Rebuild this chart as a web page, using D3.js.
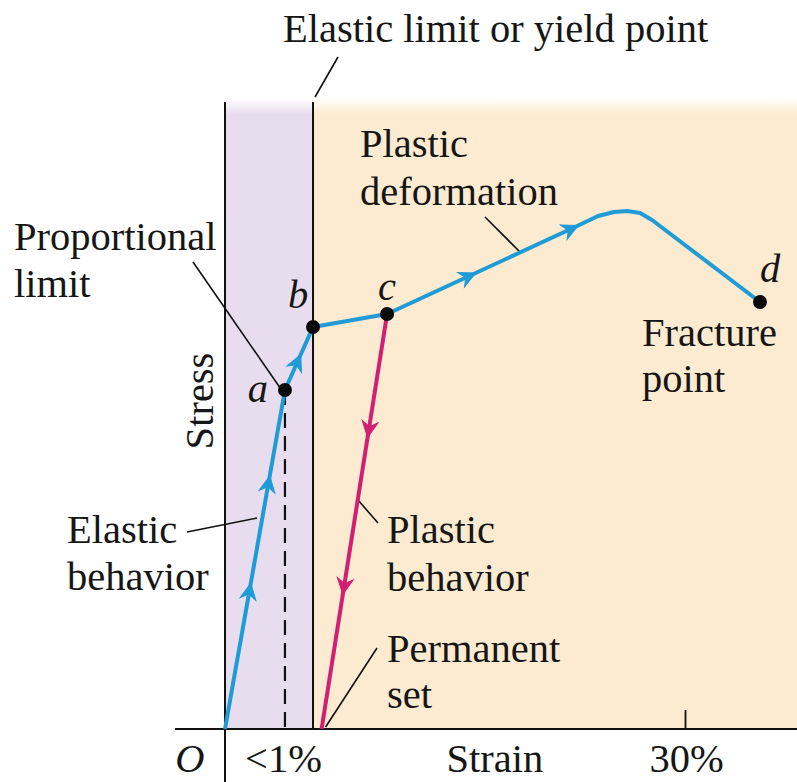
<!DOCTYPE html>
<html>
<head>
<meta charset="utf-8">
<script src="https://cdn.jsdelivr.net/npm/d3@7"></script>
<style>
  html, body { margin: 0; padding: 0; background: #ffffff; }
  svg { display: block; }
  text { font-family: "Liberation Serif", "Times New Roman", "DejaVu Serif", serif; fill: #161616; }
</style>
</head>
<body>
<svg id="chart" width="797" height="782"></svg>
<script>
// ---------------- DATA (schematic units: strain %, stress 0-100) ----------------
const loadStrain   = [0, 3.91, 5.74, 10.57, 22.83, 24.33, 25.37, 26.22, 27.07, 27.85, 34.89];
const loadStress   = [0, 54.07, 64.11, 66.19, 80.06, 81.82, 82.46, 82.62, 82.30, 81.18, 68.10];
const unloadStrain = [10.57, 6.3];
const unloadStress = [66.19, 0];
const pointLabels  = ["a", "b", "c", "d"];
const pointStrain  = [3.91, 5.74, 10.57, 34.89];
const pointStress  = [54.07, 64.11, 66.19, 68.10];
const loadArrowStrain   = [1.5, 2.8, 4.57, 15.85, 22.6];
const loadArrowStress   = [22.2, 39.2, 58.9, 72.7, 79.9];
const unloadArrowStrain = [9.13, 7.7];
const unloadArrowStress = [47.7, 22.6];
const xTickValues = [0, 3.91, 30];
const xTickLabels = ["O", "<1%", "30%"];
const xAxisTitle = "Strain";
const yAxisTitle = "Stress";
const elasticLimitStrain = 5.74;
const proportionalLimitStrain = 3.91;
const proportionalLimitStress = 54.07;

// ---------------- SETUP ----------------
const W = 797, H = 782;
const svg = d3.select("#chart");
const x = d3.scaleLinear().domain([0, 30]).range([225, 685]);
const y = d3.scaleLinear().domain([0, 100]).range([729, 102]);
const FS = 40.5;
const BOTTOM_BASELINE = 772;
const BLUE = "#1f9bd6", PINK = "#d21f73";

const defs = svg.append("defs");
function fadeGrad(id, color) {
  const g = defs.append("linearGradient").attr("id", id)
    .attr("gradientUnits", "userSpaceOnUse").attr("x1", 0).attr("x2", 0)
    .attr("y1", y(100) - 4).attr("y2", y(100) + 12);
  g.append("stop").attr("offset", 0).attr("stop-color", "#ffffff");
  g.append("stop").attr("offset", 1).attr("stop-color", color);
}
fadeGrad("lav", "#e7ddef");
fadeGrad("peach", "#fcebd0");

// backgrounds
svg.append("rect").attr("x", x(0)).attr("y", y(100) - 4)
  .attr("width", x(elasticLimitStrain) - x(0)).attr("height", y(0) - y(100) + 4)
  .attr("fill", "url(#lav)");
svg.append("rect").attr("x", x(elasticLimitStrain)).attr("y", y(100) - 4)
  .attr("width", W - x(elasticLimitStrain)).attr("height", y(0) - y(100) + 4)
  .attr("fill", "url(#peach)");

// elastic-limit vertical line + slash leader
svg.append("line").attr("x1", x(elasticLimitStrain)).attr("x2", x(elasticLimitStrain))
  .attr("y1", y(100)).attr("y2", y(0)).attr("stroke", "#111").attr("stroke-width", 2);
svg.append("line").attr("x1", x(elasticLimitStrain) + 2).attr("y1", y(100) - 5)
  .attr("x2", x(elasticLimitStrain) + 25).attr("y2", 57).attr("stroke", "#111").attr("stroke-width", 1.6);

// dashed line below proportional limit
svg.append("line").attr("x1", x(proportionalLimitStrain)).attr("x2", x(proportionalLimitStrain))
  .attr("y1", y(proportionalLimitStress)).attr("y2", y(0))
  .attr("stroke", "#111").attr("stroke-width", 2.2).attr("stroke-dasharray", "15,8");

// axes
const xAxis = d3.axisBottom(x).tickValues(xTickValues)
  .tickFormat((d, i) => xTickLabels[i]).tickSizeInner(-19).tickSizeOuter(0);
const gx = svg.append("g").attr("transform", `translate(0,${y(0)})`).call(xAxis);
gx.select(".domain").remove();
gx.selectAll(".tick line").attr("stroke", "#111").attr("stroke-width", 1.8)
  .attr("opacity", d => d === 30 ? 1 : 0);
gx.selectAll(".tick text")
  .attr("y", BOTTOM_BASELINE - y(0)).attr("dy", 0)
  .style("font-family", '"Liberation Serif", "Times New Roman", serif')
  .style("font-size", FS + "px").attr("fill", "#161616")
  .style("font-style", d => d === 0 ? "italic" : "normal")
  .attr("text-anchor", d => d === 0 ? "end" : "middle")
  .attr("x", d => d === 0 ? -21 : (d === 30 ? 1 : -2));
svg.append("line").attr("x1", 175).attr("x2", W).attr("y1", y(0)).attr("y2", y(0))
  .attr("stroke", "#111").attr("stroke-width", 2);
svg.append("line").attr("x1", x(0)).attr("x2", x(0)).attr("y1", y(100)).attr("y2", H)
  .attr("stroke", "#111").attr("stroke-width", 2);

svg.append("text").attr("x", x(17.6)).attr("y", BOTTOM_BASELINE)
  .attr("text-anchor", "middle").style("font-size", FS + "px").text(xAxisTitle);
svg.append("text").attr("transform", `translate(${x(0) - 12},401) rotate(-90)`)
  .attr("text-anchor", "middle").style("font-size", FS + "px").text(yAxisTitle);

// leaders
const leaders = [
  [[193, 262], [x(proportionalLimitStrain) - 2, y(proportionalLimitStress) + 2]],
  [[187, 532], [257, 518]],
  [[485, 217], [520, 252]],
  [[358, 500], [378, 523]],
  [[377, 648], [x(unloadStrain[1]) + 4, y(0) - 2]]
];
leaders.forEach(([p, q]) => svg.append("line")
  .attr("x1", p[0]).attr("y1", p[1]).attr("x2", q[0]).attr("y2", q[1])
  .attr("stroke", "#111").attr("stroke-width", 1.6));

// curves
const line = d3.line().x(d => x(d[0])).y(d => y(d[1])).curve(d3.curveLinear);
const loadPts = loadStrain.map((s, i) => [s, loadStress[i]]);
const unloadPts = unloadStrain.map((s, i) => [s, unloadStress[i]]);
const unloadPath = svg.append("path").attr("d", line(unloadPts)).attr("fill", "none")
  .attr("stroke", PINK).attr("stroke-width", 4).attr("stroke-linejoin", "round");
const loadPath = svg.append("path").attr("d", line(loadPts)).attr("fill", "none")
  .attr("stroke", BLUE).attr("stroke-width", 4).attr("stroke-linejoin", "round");

const arrowD = "M7,0 L-9,-8 L-4,0 L-9,8 Z";
function placeArrows(node, xs, ys, color) {
  const L = node.getTotalLength();
  const samples = d3.range(0, L, 1).map(l => { const p = node.getPointAtLength(l); return { l, x: p.x, y: p.y }; });
  xs.forEach((sx, i) => {
    const px = x(sx), py = y(ys[i]);
    const best = d3.least(samples, s => (s.x - px) ** 2 + (s.y - py) ** 2);
    const p0 = node.getPointAtLength(Math.max(0, best.l - 4));
    const p1 = node.getPointAtLength(Math.min(L, best.l + 4));
    const ang = Math.atan2(p1.y - p0.y, p1.x - p0.x) * 180 / Math.PI;
    svg.append("path").attr("d", arrowD)
      .attr("transform", `translate(${best.x},${best.y}) rotate(${ang})`)
      .attr("fill", color).attr("stroke", color).attr("stroke-width", 1);
  });
}
placeArrows(loadPath.node(), loadArrowStrain, loadArrowStress, BLUE);
placeArrows(unloadPath.node(), unloadArrowStrain, unloadArrowStress, PINK);

// points
svg.selectAll("circle.pt").data(pointStrain).join("circle").attr("class", "pt")
  .attr("cx", d => x(d)).attr("cy", (d, i) => y(pointStress[i])).attr("r", 7).attr("fill", "#0a0a0a");

// point letters
const letterOffsets = [[-17, 12, "end"], [-25, -19, "start"], [-9, -14, "start"], [0, -20, "start"]];
pointLabels.forEach((t, i) => {
  svg.append("text").attr("x", x(pointStrain[i]) + letterOffsets[i][0])
    .attr("y", y(pointStress[i]) + letterOffsets[i][1])
    .attr("text-anchor", letterOffsets[i][2])
    .style("font-size", FS + "px").style("font-style", "italic").text(t);
});

// annotation labels
const labels = [
  ["Elastic limit or yield point", 283, 42],
  ["Plastic", 360, 157], ["deformation", 360, 205],
  ["Proportional", 14, 250], ["limit", 14, 297],
  ["Fracture", 642, 346], ["point", 642, 392],
  ["Elastic", 67, 543], ["behavior", 67, 590],
  ["Plastic", 387, 543], ["behavior", 387, 591],
  ["Permanent", 387, 662], ["set", 387, 708]
];
labels.forEach(([t, lx, ly]) => svg.append("text").attr("x", lx).attr("y", ly)
  .style("font-size", FS + "px").text(t));
</script>
</body>
</html>
